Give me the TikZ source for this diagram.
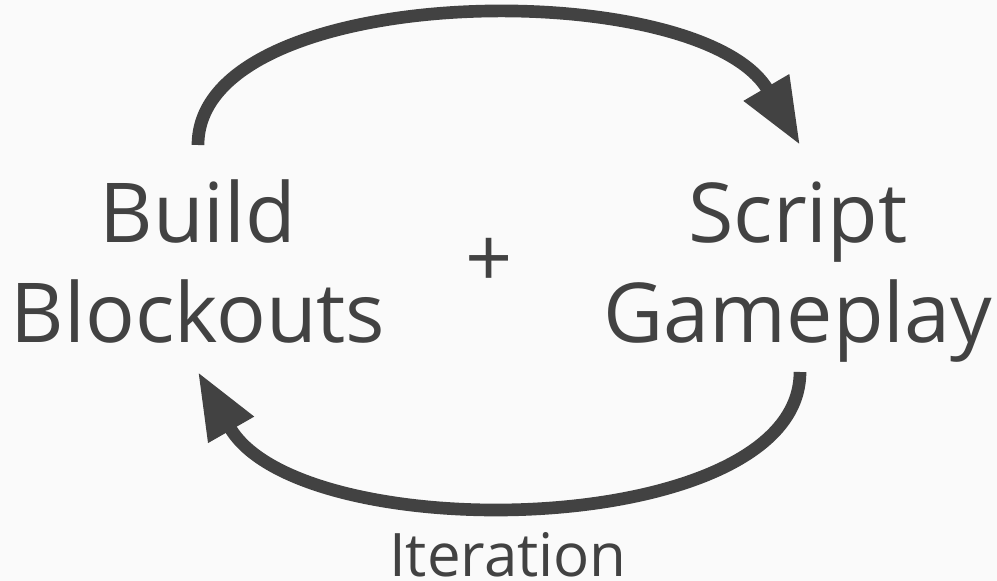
\documentclass[tikz,border=0pt]{standalone}
\usepackage{fontspec}
\setmainfont{Open Sans}
\usepackage{xcolor}
\usetikzlibrary{arrows.meta,calc}
\definecolor{inkgrey}{HTML}{424242}
\definecolor{paper}{HTML}{FAFAFA}

\begin{document}
\begin{tikzpicture}[x=0.75pt,y=0.75pt,yscale=-1,xscale=1,
    bigtext/.style={text=inkgrey,inner sep=0pt,align=center,font=\fontsize{62}{75.75}\selectfont},
    looparrow/.style={draw=inkgrey,line width=9.5pt,-{Triangle[length=50pt,width=37pt]}}]
        \fill[paper] (0,0) rectangle (997,581);
        \useasboundingbox (0,0) rectangle (997,581);

        \node (build) [bigtext,anchor=base] at (198,343) {Build\\Blockouts};
        \node (script) [bigtext,anchor=base] at (798,343) {Script\\Gameplay};
        \node (plus) [bigtext,anchor=base] at (489,288) {+};
        \node (iter) [text=inkgrey,inner sep=0pt,anchor=base,font=\fontsize{45}{54}\selectfont] at (508,576) {Iteration};

        % top loop
        \draw [looparrow] ($(build.base)+(0,-198)$) .. controls ($(build.base)+(0,-363)$) and ($(script.base)+(-98,-369)$) .. ($(script.base)+(2,-198)$);
        % bottom loop
        \draw [looparrow] ($(script.base)+(2,29)$) .. controls ($(script.base)+(2,197)$) and ($(build.base)+(102,207)$) .. ($(build.base)+(0,29)$);
    \end{tikzpicture}
\end{document}
